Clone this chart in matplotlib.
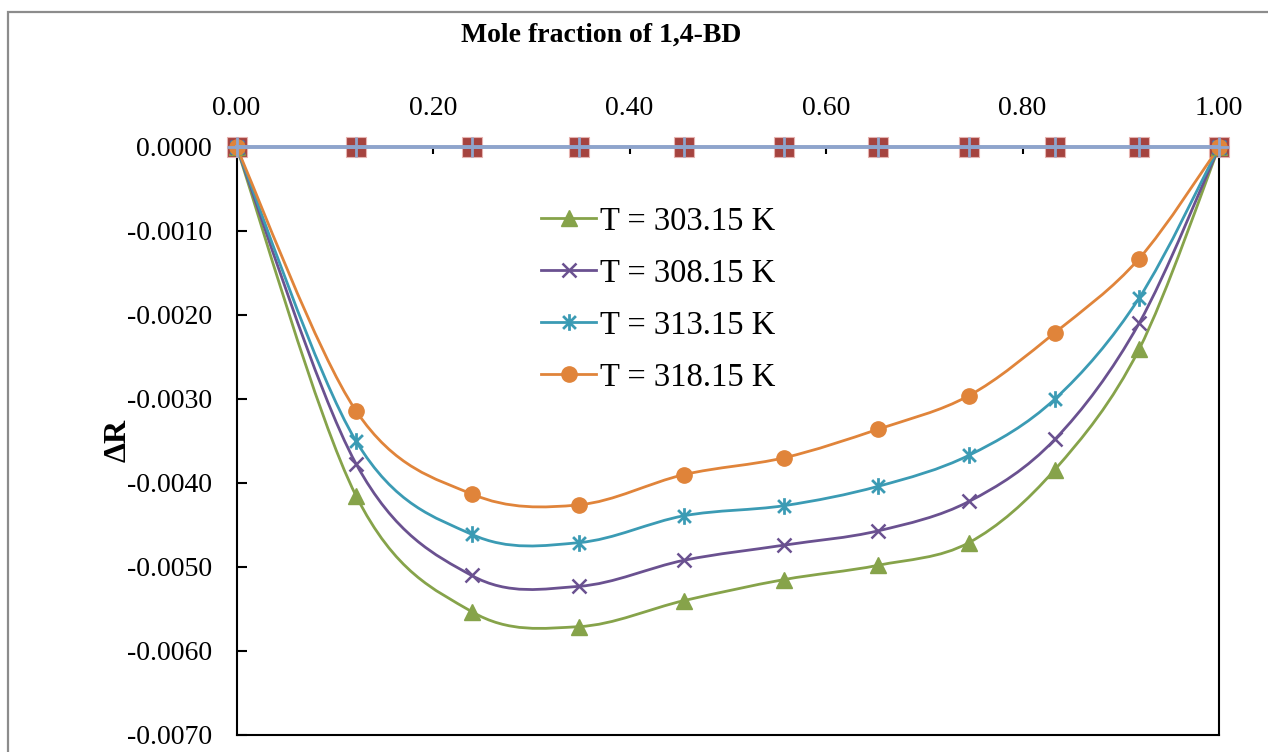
import numpy as np
import matplotlib.pyplot as plt
from matplotlib.path import Path
from matplotlib.patches import PathPatch, Rectangle
from matplotlib.lines import Line2D

plt.rcParams["font.family"] = ["Liberation Serif", "DejaVu Serif"]

# mole fraction of 1,4-BD
x = [0.0, 0.1216, 0.2392, 0.3486, 0.4555, 0.5572, 0.6529, 0.7455, 0.8330, 0.9186, 1.0]

# deviation in molar refraction at each temperature
dR_30315 = [0.0, -0.00415, -0.00553, -0.00571, -0.00540, -0.00515, -0.00498, -0.00471, -0.00384, -0.00241, 0.0]
dR_30815 = [0.0, -0.00377, -0.00510, -0.00523, -0.00492, -0.00474, -0.00457, -0.00422, -0.00348, -0.00210, 0.0]
dR_31315 = [0.0, -0.00350, -0.00461, -0.00471, -0.00439, -0.00427, -0.00404, -0.00367, -0.00300, -0.00180, 0.0]
dR_31815 = [0.0, -0.00314, -0.00413, -0.00426, -0.00390, -0.00370, -0.00336, -0.00296, -0.00221, -0.00133, 0.0]
zero_line = [0.0] * len(x)

etiketler = ["T = 303.15 K", "T = 308.15 K", "T = 313.15 K", "T = 318.15 K"]
renkler = ["#86a34a", "#6a5190", "#3b9bb4", "#e0843a"]


def yumusak_egri(xs, ys):
    # Catmull-Rom style Bezier curve through every point (Excel "smoothed line")
    p = np.column_stack([xs, ys])
    verts = [p[0]]
    codes = [Path.MOVETO]
    n = len(p)
    for i in range(n - 1):
        p0 = p[i - 1] if i > 0 else p[i]
        p3 = p[i + 2] if i + 2 < n else p[i + 1]
        c1 = p[i] + (p[i + 1] - p0) / 6
        c2 = p[i + 1] - (p3 - p[i]) / 6
        verts += [c1, c2, p[i + 1]]
        codes += [Path.CURVE4] * 3
    return Path(verts, codes)


# asterisk marker: an x with a vertical bar
yildiz = Path([[-1, -1], [1, 1], [-1, 1], [1, -1], [0, -1.3], [0, 1.3]],
              [Path.MOVETO, Path.LINETO, Path.MOVETO, Path.LINETO, Path.MOVETO, Path.LINETO])

isaretler = [dict(marker="^", markersize=11),
             dict(marker="x", markersize=10, markeredgewidth=1.8),
             dict(marker=yildiz, markersize=12, markeredgewidth=2.0),
             dict(marker="o", markersize=11)]

fig = plt.figure(figsize=(12.68, 7.52), dpi=100)
ax = fig.add_axes([236.5 / 1268, 1 - 735 / 752, 982.5 / 1268, (735 - 147) / 752])

# outer chart border
fig.patches.append(Rectangle((8 / 1268, -0.1), 1.2, 1 - 12 / 752 + 0.1, transform=fig.transFigure,
                             fill=False, edgecolor="#8c8c8c", linewidth=1.6))

# zero series along the top axis
ax.plot(x, zero_line, linestyle="none", marker="s", markersize=15, markerfacecolor="#a5433f",
        markeredgecolor="#e6b3b0", markeredgewidth=0.8, clip_on=False, zorder=3)

veriler = [dR_30315, dR_30815, dR_31315, dR_31815]
tutamaclar = []
for ys, renk, etiket, isaret in zip(veriler, renkler, etiketler, isaretler):
    ax.add_patch(PathPatch(yumusak_egri(x, ys), facecolor="none", edgecolor=renk,
                           linewidth=2.0, clip_on=False, zorder=4))
    ax.plot(x, ys, linestyle="none", color=renk, clip_on=False, zorder=5, **isaret)
    tutamaclar.append(Line2D([], [], color=renk, linewidth=2.0, **isaret))

ax.plot(x, zero_line, color="#8ea4cc", linewidth=2.8, marker="+", markersize=15,
        markeredgewidth=2.0, clip_on=False, zorder=6)

ax.set_xlim(0, 1)
ax.set_ylim(-0.007, 0)
ax.set_xticks(np.arange(0, 1.01, 0.2))
ax.set_xticklabels([f"{v:.2f}" for v in np.arange(0, 1.01, 0.2)])
y_ticks = np.arange(-7, 1) * 0.001
ax.set_yticks(y_ticks)
ax.set_yticklabels([f"{abs(v):.4f}" if abs(v) < 1e-12 else f"{v:.4f}" for v in y_ticks])

ax.xaxis.tick_top()
ax.tick_params(axis="x", direction="in", length=5, width=1.5, labelsize=20, pad=19, colors="black")
ax.tick_params(axis="y", direction="in", length=7, width=1.5, labelsize=20, pad=17.5, right=False)
for kenar in ax.spines.values():
    kenar.set_linewidth(1.5)
    kenar.set_color("black")

fig.text(601 / 1268, 1 - 35 / 752, "Mole fraction of 1,4-BD", ha="center", va="center",
         fontsize=20, fontweight="bold")
fig.text(118 / 1268, 1 - 440 / 752, "ΔR", ha="center", va="center", rotation=90,
         fontsize=23, fontweight="bold")

ax.legend(tutamaclar, etiketler, loc="upper left", bbox_to_anchor=(541 / 1268, 1 - 206 / 752),
          bbox_transform=fig.transFigure, frameon=False, fontsize=23.5, handlelength=1.69,
          handletextpad=0.12, labelspacing=0.66, borderpad=0, borderaxespad=0)

fig.savefig("out.png", dpi=100)
